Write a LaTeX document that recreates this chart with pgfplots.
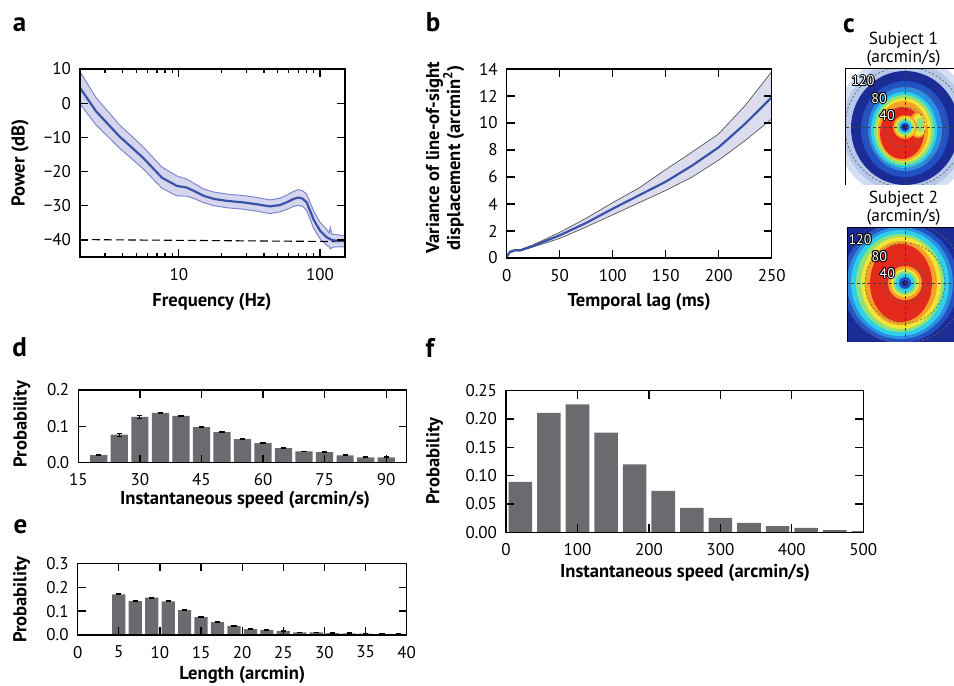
\documentclass[border=0pt]{standalone}
\usepackage{fontspec}
\setmainfont{PT Sans}
\usepackage{pgfplots}
\pgfplotsset{compat=1.18}
\usepackage{pgfplotstable}

\definecolor{meanblue}{HTML}{3A52A8}
\definecolor{bandA}{HTML}{D5D5EE}
\definecolor{edgeA}{HTML}{8186CC}
\definecolor{bandB}{HTML}{DCDCEF}
\definecolor{edgeB}{HTML}{555555}
\definecolor{bargray}{HTML}{6B6B6F}
\definecolor{jhalo}{HTML}{B7C9EA}
\definecolor{jdark}{HTML}{1B2C96}
\definecolor{jblue}{HTML}{2251C4}
\definecolor{jlblue}{HTML}{2B8FE2}
\definecolor{jcyan}{HTML}{2FD0EA}
\definecolor{jgreen}{HTML}{8EE27A}
\definecolor{jyellow}{HTML}{F2E535}
\definecolor{jorange}{HTML}{F7A227}
\definecolor{jred}{HTML}{E3281C}
\definecolor{jnavy}{HTML}{101A70}

% panel a: mean and band edges
\pgfplotstableread{
f m up lo
2 4.5 9.2 -0.2
2.6 -2.4 1.6 -6.4
3.8 -9.7 -6.3 -13.1
5.6 -16.0 -12.8 -19.2
7.6 -21.8 -18.7 -24.9
9.7 -24.2 -21.3 -27.1
11.4 -24.7 -22.2 -27.2
13 -25.8 -23.6 -28.0
15 -27.1 -25.1 -29.1
17.7 -28.0 -26.0 -30.0
22 -28.6 -26.6 -30.6
28.3 -29.0 -27.0 -31.0
36 -29.6 -27.6 -31.6
44 -30.2 -28.3 -32.3
52 -29.8 -27.8 -31.8
58 -29.0 -26.9 -31.1
65 -28.0 -25.8 -30.2
70 -27.6 -25.3 -29.9
75 -27.9 -25.6 -30.2
80.3 -29.0 -26.6 -31.4
85 -31.5 -29.0 -34.0
89.6 -33.9 -31.4 -36.4
95 -35.8 -33.3 -38.3
100 -37.3 -34.9 -39.7
111 -39.2 -36.9 -41.5
116 -39.6 -38.0 -42.0
118 -39.8 -36.3 -42.6
121 -40.0 -38.3 -42.3
128 -40.2 -38.4 -42.0
150 -40.4 -38.8 -42.0
}\tabA
% panel a: band outline (upper edge, then lower edge back)
\pgfplotstableread{
f p
2 9.2
2.6 1.6
3.8 -6.3
5.6 -12.8
7.6 -18.7
9.7 -21.3
11.4 -22.2
13 -23.6
15 -25.1
17.7 -26.0
22 -26.6
28.3 -27.0
36 -27.6
44 -28.3
52 -27.8
58 -26.9
65 -25.8
70 -25.3
75 -25.6
80.3 -26.6
85 -29.0
89.6 -31.4
95 -33.3
100 -34.9
111 -36.9
116 -38.0
118 -36.3
121 -38.3
128 -38.4
150 -38.8
150 -42.0
128 -42.0
121 -42.3
118 -42.6
116 -42.0
111 -41.5
100 -39.7
95 -38.3
89.6 -36.4
85 -34.0
80.3 -31.4
75 -30.2
70 -29.9
65 -30.2
58 -31.1
52 -31.8
44 -32.3
36 -31.6
28.3 -31.0
22 -30.6
17.7 -30.0
15 -29.1
13 -28.0
11.4 -27.2
9.7 -27.1
7.6 -24.9
5.6 -19.2
3.8 -13.1
2.6 -6.4
2 -0.2
}\bandAt

\pgfplotstableread{
t m up lo
0 0.1 0.15 0.05
3 0.45 0.5 0.4
8 0.58 0.63 0.53
13 0.57 0.62 0.52
25 0.9 0.98 0.82
50 1.68 1.9 1.45
75 2.6 2.95 2.3
100 3.65 4.1 3.2
125 4.65 5.2 4.1
150 5.65 6.55 5.0
175 6.85 7.85 6.0
200 8.2 9.2 7.25
225 9.95 11.3 8.7
250 11.9 13.8 10.3
}\tabB
\pgfplotstableread{
t v
0 0.15
3 0.5
8 0.63
13 0.62
25 0.98
50 1.9
75 2.95
100 4.1
125 5.2
150 6.55
175 7.85
200 9.2
225 11.3
250 13.8
250 10.3
225 8.7
200 7.25
175 6.0
150 5.0
125 4.1
100 3.2
75 2.3
50 1.45
25 0.82
13 0.52
8 0.53
3 0.4
0 0.05
}\bandBt

\pgfplotstableread{
x y e
20 0.021 0.001
25 0.077 0.004
30 0.126 0.004
35 0.137 0.002
40 0.129 0.001
45 0.098 0.001
50 0.084 0.001
55 0.065 0.001
60 0.054 0.001
65 0.040 0.0005
70 0.031 0.0005
75 0.029 0.002
80 0.020 0.001
85 0.015 0.0005
90 0.015 0.001
}\tabD

\pgfplotstableread{
x y e
5 0.170 0.002
7 0.142 0.003
9 0.156 0.002
11 0.141 0.002
13 0.104 0.001
15 0.075 0.001
17 0.054 0.001
19 0.038 0.002
21 0.025 0.001
23 0.021 0.001
25 0.016 0.001
27 0.011 0.001
29 0.011 0.001
31 0.008 0.002
33 0.007 0.001
35 0.006 0.001
37 0.004 0.001
39 0.003 0.001
}\tabE

\pgfplotstableread{
x y
20 0.089
60 0.211
100 0.226
140 0.176
180 0.120
220 0.073
260 0.043
300 0.0255
340 0.0165
380 0.011
420 0.0078
460 0.004
500 0.002
}\tabF

\pgfplotsset{
  myaxis/.style={
    scale only axis, anchor=south west,
    axis line style={line width=0.6pt},
    axis on top,
    tick align=inside,
    xtick pos=both, ytick pos=both,
    every tick/.append style={black, line width=0.65pt, solid},
    major tick length=4pt, minor tick length=2.2pt,
    tick label style={font=\fontsize{8.5}{10}\selectfont},
    xticklabel style={yshift=-2pt},
    yticklabel style={xshift=-1pt},
    label style={font=\bfseries\fontsize{9.3}{10.5}\selectfont},
    /pgf/number format/assume math mode=true,
  },
  mapaxis/.style={
    scale only axis, anchor=south west, ticks=none,
    axis line style={line width=0.6pt}, clip=true,
  },
  errd/.style={
    error bars/.cd, y dir=both, y explicit,
    error bar style={black, line width=0.5pt},
    error mark=|,
    error mark options={black, line width=0.6pt, mark size=1.3pt},
  },
}
\tikzset{
  plab/.style={font=\bfseries\fontsize{13.5}{14}\selectfont, inner sep=0pt},
  olk/.style={font=\fontsize{7}{8}\selectfont, text=black, inner sep=0pt},
  olw/.style={font=\fontsize{7}{8}\selectfont, text=white, inner sep=0pt},
}

\newcommand{\olab}[3]{%
  \node[olk, xshift=0.5pt] at (axis cs:#1,#2) {#3};
  \node[olk, xshift=-0.5pt] at (axis cs:#1,#2) {#3};
  \node[olk, yshift=0.5pt] at (axis cs:#1,#2) {#3};
  \node[olk, yshift=-0.5pt] at (axis cs:#1,#2) {#3};
  \node[olk, xshift=0.35pt, yshift=0.35pt] at (axis cs:#1,#2) {#3};
  \node[olk, xshift=-0.35pt, yshift=0.35pt] at (axis cs:#1,#2) {#3};
  \node[olk, xshift=0.35pt, yshift=-0.35pt] at (axis cs:#1,#2) {#3};
  \node[olk, xshift=-0.35pt, yshift=-0.35pt] at (axis cs:#1,#2) {#3};
  \node[olw] at (axis cs:#1,#2) {#3};
}
\newcommand{\elp}[5]{\fill[#1] (axis cs:#2,#3) ellipse [x radius=#4, y radius=#5];}

\begin{document}
\begin{tikzpicture}
\useasboundingbox (0,0) rectangle (477pt,-343pt);

% panel letters
\node[plab] at (9.8pt,-12.5pt) {a};
\node[plab] at (216.5pt,-11pt) {b};
\node[plab] at (424.5pt,-13pt) {c};
\node[plab] at (9.8pt,-173.5pt) {d};
\node[plab] at (10.2pt,-263.5pt) {e};
\node[plab] at (215pt,-174pt) {f};

% ---------------- a
\begin{axis}[myaxis, at={(40pt,-128.5pt)}, width=132.5pt, height=94pt,
  xmode=log, xmin=2, xmax=150, ymin=-45, ymax=10,
  xtick={10,100}, xticklabels={10,100},
  minor xtick={3,4,5,6,7,8,9,20,30,40,50,60,70,80,90},
  ytick={-40,-30,-20,-10,0,10},
  yticklabels={−40,−30,−20,−10,0,10},
  xlabel={Frequency (Hz)}, ylabel={Power (dB)},
  xlabel style={at={(axis description cs:0.498,-0.239)}, anchor=center},
  ylabel style={at={(axis description cs:-0.226,0.5)}, anchor=center},
]
\addplot[fill=bandA, draw=none] table[x=f,y=p] {\bandAt} -- cycle;
\addplot[edgeA, line width=0.5pt] table[x=f,y=up] {\tabA};
\addplot[edgeA, line width=0.5pt] table[x=f,y=lo] {\tabA};
\addplot[black, line width=0.55pt, dash pattern=on 4pt off 2pt] coordinates {(2,-39.9) (150,-40.5)};
\addplot[meanblue, line width=1.1pt] table[x=f,y=m] {\tabA};
\end{axis}

% ---------------- b
\begin{axis}[myaxis, at={(253.35pt,-129pt)}, width=132.5pt, height=94.5pt,
  xmin=0, xmax=250, ymin=0, ymax=14,
  xtick={0,50,100,150,200,250}, xticklabels={0,50,100,150,200,250},
  ytick={0,2,4,6,8,10,12,14}, yticklabels={0,2,4,6,8,10,12,14},
  xlabel={Temporal lag (ms)},
  ylabel={Variance of line-of-sight\\displacement (arcmin\textsuperscript{2})},
  xlabel style={at={(axis description cs:0.5,-0.233)}, anchor=center},
  ylabel style={at={(axis description cs:-0.233,0.53)}, anchor=center, align=center},
]
\addplot[fill=bandB, draw=none] table[x=t,y=v] {\bandBt} -- cycle;
\addplot[edgeB, line width=0.35pt] table[x=t,y=up] {\tabB};
\addplot[edgeB, line width=0.35pt] table[x=t,y=lo] {\tabB};
\addplot[meanblue, line width=1.1pt] table[x=t,y=m] {\tabB};
\end{axis}

% ---------------- c titles
\node[align=center, font=\fontsize{8.7}{8.8}\selectfont] at (451.75pt,-24.75pt) {Subject 1\\(arcmin/s)};
\node[align=center, font=\fontsize{8.7}{8.8}\selectfont] at (451.75pt,-104pt) {Subject 2\\(arcmin/s)};

% ---------------- c subject 1
\begin{axis}[mapaxis, at={(423pt,-92pt)}, width=57.5pt, height=57.5pt,
  xmin=-59, xmax=56, ymin=-57, ymax=58]
\addplot[draw=none] coordinates {(0,0)};
\fill[white] (axis cs:-70,-70) rectangle (axis cs:70,70);
\elp{jhalo!60!white}{0}{0}{70}{72}
\elp{jhalo}{0}{0}{63}{66}
\elp{jdark}{0}{-1}{54}{57}
\elp{jblue}{0}{-2}{44}{48}
\elp{jlblue}{0}{-2}{37}{42}
\elp{jcyan}{-1}{-3}{33}{38}
\elp{jgreen}{-1}{-3}{30}{35}
\elp{jyellow}{-1}{-3}{27}{32}
\elp{jorange}{-2}{-4}{25}{30}
\elp{jred}{-3}{-6}{22}{26}
\elp{jorange}{13}{2}{9}{13}
\elp{jyellow}{14}{2}{7}{11}
\elp{jgreen}{15}{2}{4}{7}
\elp{jorange}{0}{0}{12}{12}
\elp{jyellow}{0}{0}{10}{10}
\elp{jgreen}{0}{0}{8.5}{8.5}
\elp{jcyan}{0}{0}{6.5}{6.5}
\elp{jblue}{0}{0}{4.5}{4.5}
\elp{jnavy}{0}{0}{2.5}{2.5}
\draw[black!60, line width=0.35pt, dash pattern=on 1pt off 1pt] (axis cs:0,0) circle [radius=20];
\draw[black!60, line width=0.35pt, dash pattern=on 1pt off 1pt] (axis cs:0,0) circle [radius=40];
\draw[black!60, line width=0.35pt, dash pattern=on 1pt off 1pt] (axis cs:0,0) circle [radius=60];
\draw[black!75, line width=0.4pt, dash pattern=on 1.5pt off 1.2pt] (axis cs:-70,0) -- (axis cs:70,0);
\draw[black!75, line width=0.4pt, dash pattern=on 1.5pt off 1.2pt] (axis cs:0,-70) -- (axis cs:0,70);
\olab{-42}{46}{120}
\olab{-26}{28.7}{80}
\olab{-18}{11.7}{40}
\end{axis}

% ---------------- c subject 2
\begin{axis}[mapaxis, at={(424pt,-170.5pt)}, width=57.5pt, height=56.5pt,
  xmin=-57, xmax=58, ymin=-58, ymax=55]
\addplot[draw=none] coordinates {(0,0)};
\fill[jdark] (axis cs:-70,-70) rectangle (axis cs:70,70);
\elp{jblue}{-5}{0}{58}{60}
\elp{jlblue}{-5}{0}{53}{56}
\elp{jcyan}{-5}{0}{49}{53}
\elp{jgreen}{-5}{0}{44}{49}
\elp{jyellow}{-4}{0}{40}{46}
\elp{jorange}{-4}{0}{36}{42}
\elp{jred}{-4}{0}{31}{39}
\elp{jorange}{0}{0}{17}{17}
\elp{jyellow}{0}{0}{14}{14}
\elp{jgreen}{0}{0}{12}{12}
\elp{jcyan}{0}{0}{9.5}{9.5}
\elp{jblue}{0}{0}{6}{6}
\elp{jnavy}{0}{0}{3}{3}
\draw[black!60, line width=0.35pt, dash pattern=on 1pt off 1pt] (axis cs:0,0) circle [radius=20];
\draw[black!60, line width=0.35pt, dash pattern=on 1pt off 1pt] (axis cs:0,0) circle [radius=40];
\draw[black!60, line width=0.35pt, dash pattern=on 1pt off 1pt] (axis cs:0,0) circle [radius=60];
\draw[black!75, line width=0.4pt, dash pattern=on 1.5pt off 1.2pt] (axis cs:-70,0) -- (axis cs:70,0);
\draw[black!75, line width=0.4pt, dash pattern=on 1.5pt off 1.2pt] (axis cs:0,-70) -- (axis cs:0,70);
\olab{-45}{43.7}{120}
\olab{-25.7}{26.3}{80}
\olab{-17.7}{9.7}{40}
\end{axis}

% ---------------- d
\begin{axis}[myaxis, at={(39.15pt,-231.35pt)}, width=164.2pt, height=36.35pt,
  xmin=15, xmax=95, ymin=0, ymax=0.2,
  xtick={15,30,45,60,75,90}, xticklabels={15,30,45,60,75,90},
  ytick={0,0.1,0.2}, yticklabels={0.0,0.1,0.2},
  xlabel={Instantaneous speed (arcmin/s)}, ylabel={Probability},
  xlabel style={at={(axis description cs:0.508,-0.513)}, anchor=center},
  ylabel style={at={(axis description cs:-0.172,0.53)}, anchor=center},
]
\addplot[ybar, bar width=4.2, fill=bargray, draw=none, errd] table[x=x,y=y,y error=e] {\tabD};
\end{axis}

% ---------------- e
\begin{axis}[myaxis, at={(38.85pt,-317.5pt)}, width=164.5pt, height=35.85pt,
  xmin=0, xmax=40, ymin=0, ymax=0.3,
  xtick={0,5,10,15,20,25,30,35,40}, xticklabels={0,5,10,15,20,25,30,35,40},
  ytick={0,0.1,0.2,0.3}, yticklabels={0.0,0.1,0.2,0.3},
  xlabel={Length (arcmin)}, ylabel={Probability},
  xlabel style={at={(axis description cs:0.5,-0.555)}, anchor=center},
  ylabel style={at={(axis description cs:-0.17,0.49)}, anchor=center},
]
\addplot[ybar, bar width=1.6, fill=bargray, draw=none, errd] table[x=x,y=y,y error=e] {\tabE};
\end{axis}

% ---------------- f
\begin{axis}[myaxis, at={(253pt,-266.15pt)}, width=178.65pt, height=70.8pt,
  xmin=0, xmax=500, ymin=0, ymax=0.25,
  xtick={0,100,200,300,400,500}, xticklabels={0,100,200,300,400,500},
  ytick={0,0.05,0.1,0.15,0.2,0.25}, yticklabels={0.00,0.05,0.10,0.15,0.20,0.25},
  xlabel={Instantaneous speed (arcmin/s)}, ylabel={Probability},
  xlabel style={at={(axis description cs:0.501,-0.287)}, anchor=center},
  ylabel style={at={(axis description cs:-0.2,0.503)}, anchor=center},
]
\addplot[ybar, bar width=33, fill=bargray, draw=none] table[x=x,y=y] {\tabF};
\end{axis}

\end{tikzpicture}
\end{document}
